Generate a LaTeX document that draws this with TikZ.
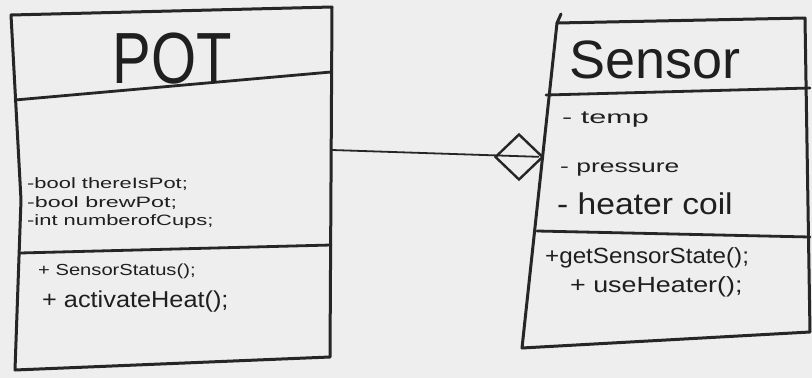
\documentclass[tikz,border=0pt]{standalone}
\usepackage{fontspec}
\usepackage{graphicx}
\setmainfont{Liberation Sans}
\usetikzlibrary{shapes.geometric}
\newcommand\hsx[3]{{\fontsize{#2}{#2}\selectfont\scalebox{#1}[1]{#3}}}
\begin{document}
\begin{tikzpicture}[x=1pt,y=-1pt,
  boxline/.style={line width=3pt, line join=round, line cap=round, draw=black!85},
  divline/.style={line width=2.8pt, line cap=round, draw=black!85},
  txt/.style={anchor=base west, inner sep=0pt, text=black!88},
  ttl/.style={anchor=base, inner sep=0pt, text=black!88}]
\fill[gray!13] (0,0) rectangle (812,378);
\useasboundingbox (0,0) rectangle (812,378);
% POT box
\coordinate (p1) at (11,15);
\coordinate (p2) at (332,7);
\coordinate (p3) at (330,357);
\coordinate (p4) at (15,370);
\coordinate (pm) at (21,200);
\draw[boxline] (p1) -- (p2) -- (p3) -- (p4) -- (pm) -- cycle;
\draw[divline] (15,100) -- (331,72);
\draw[divline] (20,253) -- (331,245);
\coordinate (potR) at (332,150);
\node[ttl] (pottitle) at (172,83) {\fontsize{58}{58}\selectfont\scalebox{1}[1.25]{POT}};
\node[txt] (pa1) at (27,188) {\hsx{1.46}{15}{-bool thereIsPot;}};
\node[txt] (pa2) at (27,207) {\hsx{1.55}{15}{-bool brewPot;}};
\node[txt] (pa3) at (27,225) {\hsx{1.46}{15}{-int numberofCups;}};
\node[txt] (pm1) at (38,275) {\hsx{1.26}{16}{+ SensorStatus();}};
\node[txt] (pm2) at (42,307) {\hsx{1.1}{23}{+ activateHeat();}};
% Sensor box
\coordinate (s1) at (557,23);
\coordinate (s2) at (805,18);
\coordinate (s3) at (810,332);
\coordinate (s4) at (522,348);
\draw[boxline] (s1) -- (s2) -- (s3) -- (s4) -- cycle;
\draw[boxline] (561,14) -- (s1);
\draw[divline] (546,95) -- (810,88);
\draw[divline] (537,231) -- (810,237);
\node[ttl] (sensortitle) at (655,78) {\fontsize{54}{54}\selectfont Sensor};
\node[txt] (sa1) at (562,123) {\hsx{1.7}{18}{- temp}};
\node[txt] (sa2) at (560,172) {\hsx{1.47}{18}{- pressure}};
\node[txt] (sa3) at (557,214) {\hsx{1.12}{30}{- heater coil}};
\node[txt] (sm1) at (545,263) {\hsx{1.1}{22}{+getSensorState();}};
\node[txt] (sm2) at (570,292) {\hsx{1.22}{22}{+ useHeater();}};
% aggregation
\node[diamond, draw=black!85, line width=2.4pt, minimum width=48pt, minimum height=46pt, inner sep=0pt] (agg) at (519,157) {};
\draw[line width=1.8pt, draw=black!85, shorten >=5pt] (potR) -- (agg.east);
\end{tikzpicture}
\end{document}
